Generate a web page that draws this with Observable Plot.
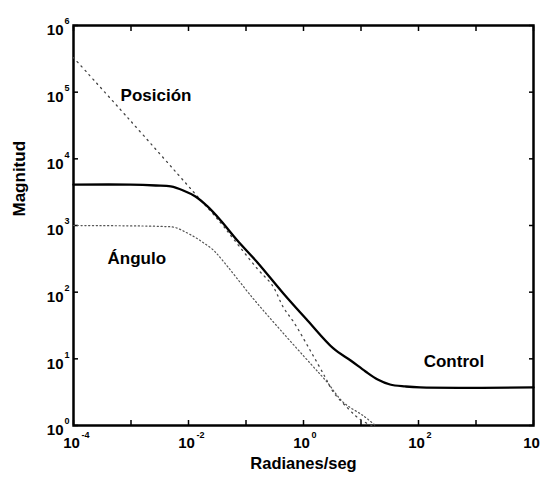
<!DOCTYPE html>
<html><head><meta charset="utf-8">
<script src="https://cdn.jsdelivr.net/npm/d3@7"></script>
<script src="https://cdn.jsdelivr.net/npm/@observablehq/plot@0.6"></script>
<style>body{margin:0;background:#fff}</style>
</head><body><div id="chart"></div>
<script>
// Control (solid)
const controlX = [1e-4, 0.00098, 0.0027, 0.0049, 0.0081, 0.0132, 0.0214, 0.0363, 0.0708, 0.158, 0.447, 1.175, 3.31, 6.61, 12.0, 19.5, 32, 59, 107, 1e4];
const controlY = [4100, 4100, 3980, 3850, 3350, 2720, 1930, 1190, 596, 279, 95.5, 37.6, 14.3, 9.44, 6.46, 4.9, 4.12, 3.85, 3.72, 3.72];
// Posición (sparse dots)
const posX = [1e-4, 0.00087, 0.01175, 0.0363, 0.0603, 0.158, 0.288, 0.447, 0.676, 1.32, 2.4, 3.31, 5.89, 8.7, 12.9, 15.8];
const posY = [330000, 41700, 3311, 1096, 631, 224, 126, 59, 35.5, 13.2, 5.25, 3.16, 1.82, 1.32, 1.07, 1.0];
// Ángulo (dense dots)
const angX = [1e-4, 0.0037, 0.0059, 0.0089, 0.0132, 0.0182, 0.0263, 0.0372, 0.129, 0.398, 1.32, 2.5, 5.0, 11, 17.8];
const angY = [1000, 966, 933, 794, 661, 550, 437, 316, 83, 27, 8.5, 4.6, 2.2, 1.4, 1.0];

const seriesNames = ["Posición", "Ángulo", "Control"];
const labelX = [6.6e-4, 3.9e-4, 123];
const labelY = [89000, 316, 9.1];

const xTicks = [1e-4, 1e-3, 1e-2, 1e-1, 1, 10, 100, 1000, 1e4];
const xLabelTicks = [1e-4, 1e-2, 1, 100, 1e4];
const xLabelBase = ["10", "10", "10", "10", "10"];
const xLabelExp = ["-4", "-2", "0", "2", ""];
const yTicks = [1, 10, 100, 1000, 1e4, 1e5, 1e6];
const yLabelBase = ["10", "10", "10", "10", "10", "10", "10"];
const yLabelExp = ["0", "1", "2", "3", "4", "5", "6"];

const xAxisTitle = "Radianes/seg";
const yAxisTitle = "Magnitud";

const toRows = (xs, ys) => xs.map((x, i) => ({x, y: ys[i]}));
const control = toRows(controlX, controlY);
const posicion = toRows(posX, posY);
const angulo = toRows(angX, angY);
const labels = seriesNames.map((t, i) => ({t, x: labelX[i], y: labelY[i]}));
const xl = xLabelTicks.map((v, i) => ({v, b: xLabelBase[i], e: xLabelExp[i]}));
const yl = yTicks.map((v, i) => ({v, b: yLabelBase[i], e: yLabelExp[i]}));

const narrow = "'Liberation Sans Narrow','Arial Narrow','Liberation Sans',sans-serif";
const wide = "'Liberation Sans',Arial,sans-serif";

const chart = Plot.plot({
  width: 540, height: 483,
  marginLeft: 73, marginRight: 7, marginTop: 25, marginBottom: 58,
  x: {type: "log", domain: [1e-4, 1e4]},
  y: {type: "log", domain: [1, 1e6]},
  style: {background: "#fff", color: "#000", fontFamily: narrow},
  marks: [
    Plot.axisX({anchor: "bottom", ticks: xTicks, tickSize: -5, tickFormat: () => "", label: null, strokeWidth: 1.5}),
    Plot.axisX({anchor: "top", ticks: xTicks, tickSize: -5, tickFormat: () => "", label: null, strokeWidth: 1.5}),
    Plot.axisY({anchor: "left", ticks: yTicks, tickSize: -5, tickFormat: () => "", label: null, strokeWidth: 1.5}),
    Plot.axisY({anchor: "right", ticks: yTicks, tickSize: -5, tickFormat: () => "", label: null, strokeWidth: 1.5}),
    Plot.frame({stroke: "#000", strokeWidth: 2.5}),
    Plot.line(angulo, {x: "x", y: "y", stroke: "#555", strokeWidth: 1.2, strokeDasharray: "1.2,2.6", curve: "catmull-rom"}),
    Plot.line(posicion, {x: "x", y: "y", stroke: "#444", strokeWidth: 1.3, strokeDasharray: "1.3,4.5", curve: "catmull-rom"}),
    Plot.line(control, {x: "x", y: "y", stroke: "#000", strokeWidth: 2.3, curve: "catmull-rom"}),
    Plot.text(labels, {x: "x", y: "y", text: "t", textAnchor: "start", fontSize: 17, fontWeight: "bold", fontFamily: narrow}),
    // x tick labels
    Plot.text(xl, {x: "v", frameAnchor: "bottom", text: "b", dy: 22, dx: -2, fontSize: 15, fontWeight: "bold", fontFamily: wide}),
    Plot.text(xl, {x: "v", frameAnchor: "bottom", text: "e", dy: 12, dx: 8, textAnchor: "start", fontSize: 9, fontWeight: "bold", fontFamily: wide}),
    // y tick labels
    Plot.text(yl, {y: "v", frameAnchor: "left", text: "b", dx: -10, dy: 5, textAnchor: "end", fontSize: 15, fontWeight: "bold", fontFamily: wide}),
    Plot.text(yl, {y: "v", frameAnchor: "left", text: "e", dx: -9, dy: -4, textAnchor: "start", fontSize: 9, fontWeight: "bold", fontFamily: wide}),
    // axis titles
    Plot.text([xAxisTitle], {frameAnchor: "bottom", text: d => d, dy: 43, fontSize: 16.5, fontWeight: "bold", fontFamily: narrow}),
    Plot.text([yAxisTitle], {frameAnchor: "left", text: d => d, dx: -54, dy: -9, rotate: -90, fontSize: 17, fontWeight: "bold", fontFamily: narrow})
  ]
});
document.getElementById("chart").appendChild(chart);
</script>
</body></html>
